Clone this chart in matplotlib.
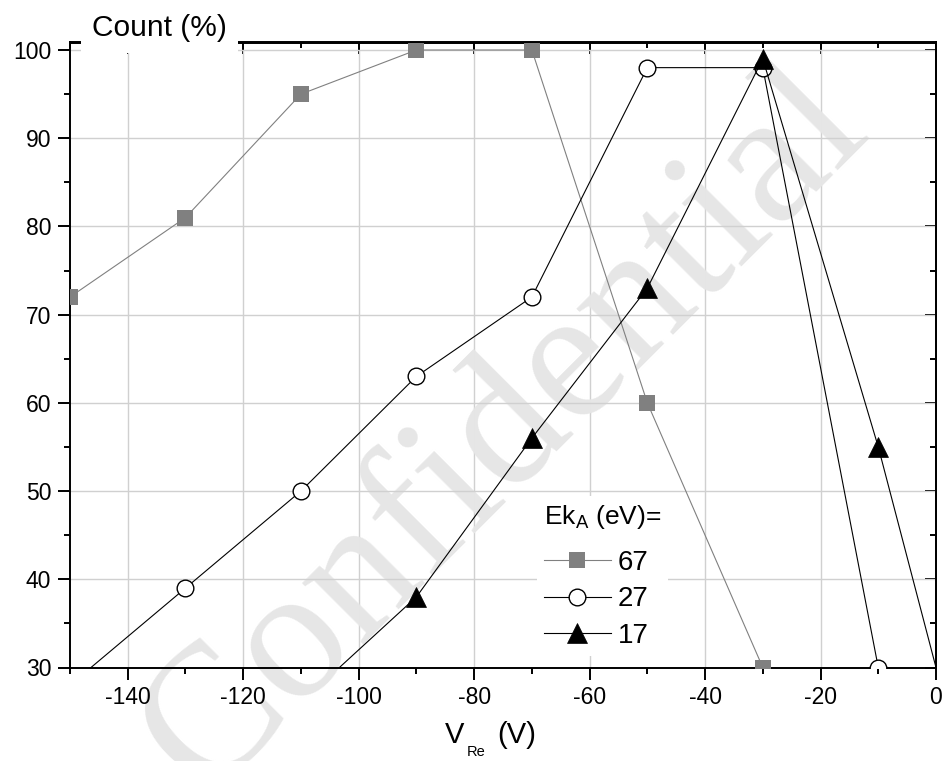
import matplotlib
matplotlib.use("Agg")
import matplotlib.pyplot as plt
from matplotlib.ticker import MultipleLocator

plt.rcParams['font.family'] = ['Liberation Sans', 'DejaVu Sans']
plt.rcParams['axes.unicode_minus'] = False
plt.rcParams['mathtext.fontset'] = 'custom'
plt.rcParams['mathtext.rm'] = 'Liberation Sans'

# data
x67 = [-150, -130, -110, -90, -70, -50, -30]
y67 = [72, 81, 95, 100, 100, 60, 30]
x27 = [-150, -130, -110, -90, -70, -50, -30, -10]
y27 = [28, 39, 50, 63, 72, 98, 98, 30]
x17 = [-110, -90, -70, -50, -30, -10, 10]
y17 = [26, 38, 56, 73, 99, 55, 5]
labels = ['67', '27', '17']
xgrid = [-140, -120, -100, -80, -60, -40, -20]

W, H = 944, 761
def fx(px): return px / W
def fy(py): return 1 - py / H

fig = plt.figure(figsize=(9.44, 7.61), dpi=100)
ax = fig.add_axes([fx(70), fy(667.5), 866 / W, 625 / H])

# grid (vertical lines only span the data range)
ax.grid(axis='y', color='#d0d0d0', lw=1.0, zorder=0.5)
ax.vlines(xgrid, 30, 100, colors='#d0d0d0', lw=1.0, zorder=0.5)

# watermark
ax.text(fx(505), fy(432), "Confidential", transform=fig.transFigure,
        rotation=45, rotation_mode='anchor', ha='center', va='center',
        fontsize=136, family='Liberation Serif', color='#e6e6e6',
        zorder=1, clip_on=False)

l1, = ax.plot(x67, y67, color='#808080', lw=0.8, marker='s', ms=11.5,
              mfc='#808080', mec='#808080', mew=0, zorder=3)
l2, = ax.plot(x27, y27, color='black', lw=0.8, marker='o', ms=12,
              mfc='white', mec='black', mew=1.0, zorder=3)
l3, = ax.plot(x17, y17, color='black', lw=0.8, marker='^', ms=15,
              mfc='black', mec='black', mew=0.5, zorder=3)

ax.set_xlim(-150, 0)
ax.set_ylim(30, 100.85)

ax.xaxis.set_major_locator(MultipleLocator(20))
ax.xaxis.set_minor_locator(MultipleLocator(10))
ax.yaxis.set_minor_locator(MultipleLocator(5))
ax.set_yticks([30, 40, 50, 60, 70, 80, 90, 100])
ax.tick_params(which='both', direction='out', width=1.4, labelsize=16.5)
ax.tick_params(which='major', length=8.5)
ax.tick_params(which='minor', length=4.5)
ax.tick_params(axis='x', pad=5)
ax.tick_params(axis='y', pad=5)
for s in ax.spines.values():
    s.set_linewidth(1.4)

# top / right axes with inward ticks
top = ax.secondary_xaxis('top')
top.xaxis.set_major_locator(MultipleLocator(20))
top.xaxis.set_minor_locator(MultipleLocator(10))
top.tick_params(which='both', direction='in', width=1.4, labeltop=False)
top.tick_params(which='major', length=8.5)
top.tick_params(which='minor', length=4.5)
top.spines['top'].set_linewidth(1.4)
right = ax.secondary_yaxis('right')
right.yaxis.set_major_locator(MultipleLocator(10))
right.yaxis.set_minor_locator(MultipleLocator(5))
right.tick_params(which='both', direction='in', width=1.4, labelright=False)
right.tick_params(which='major', length=8)
right.tick_params(which='minor', length=4)
right.spines['right'].set_linewidth(1.4)

leg = ax.legend([l1, l2, l3], labels, title="Ek$_\\mathregular{A}$ (eV)=",
                loc='upper left', bbox_to_anchor=(fx(537), fy(496)),
                bbox_transform=fig.transFigure, frameon=True, fancybox=False,
                edgecolor='none', facecolor='white', framealpha=1,
                fontsize=20, title_fontsize=19, handlelength=2.4,
                handletextpad=0.25, labelspacing=0.38, borderpad=0.25,
                borderaxespad=0, alignment='left')
leg._legend_box.sep += 6
leg.set_zorder(5)

# y axis title breaking the top frame
fig.text(fx(92), fy(36), "Count (%)", fontsize=21.5, ha='left', va='baseline',
         bbox=dict(facecolor='white', edgecolor='none', pad=8), zorder=10)

# x axis title
fig.text(fx(445), fy(743), "V", fontsize=21, ha='left', va='baseline')
fig.text(fx(467), fy(756), "Re", fontsize=10.5, ha='left', va='baseline')
fig.text(fx(497), fy(743), "(V)", fontsize=21, ha='left', va='baseline')

fig.savefig("out.png", dpi=100)
